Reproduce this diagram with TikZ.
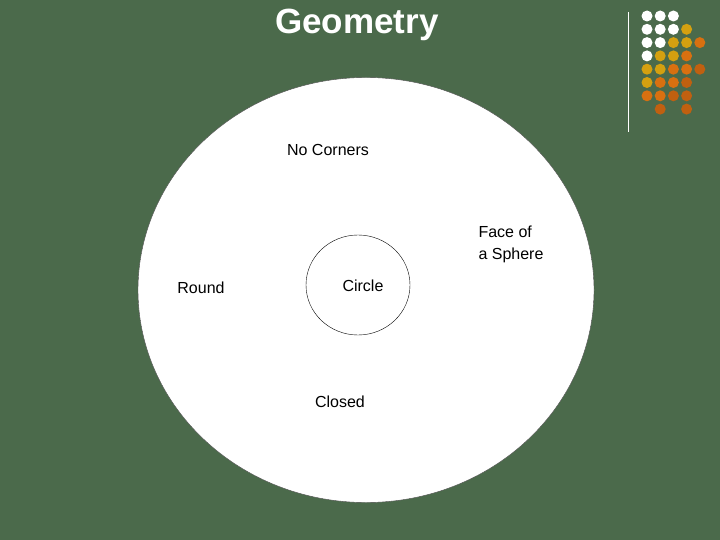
\documentclass[tikz,border=0pt]{standalone}
\usepackage{fontspec}
\usetikzlibrary{shapes.geometric}
\setmainfont{Liberation Sans}
\begin{document}
\begin{tikzpicture}[x=1pt,y=-1pt,
  lbl/.style={font=\fontsize{16}{22}\selectfont,align=left},
  dot/.style={circle,inner sep=0pt,minimum size=11pt}]
\definecolor{bg}{HTML}{4B6A4B}
\definecolor{dW}{HTML}{FFFFFF}
\definecolor{dY}{HTML}{D4A010}
\definecolor{dO}{HTML}{D87010}
\definecolor{dD}{HTML}{C06010}
\fill[bg] (0,0) rectangle (720,540);
\useasboundingbox (0,0) rectangle (720,540);
\node[text=white,font=\bfseries\fontsize{35}{40}\selectfont] (title) at (357,25) {Geometry};
\draw[white,line width=1pt] (628,12) -- (628,132);
\foreach \r/\lst in {0/{W,W,W},1/{W,W,W,Y},2/{W,W,Y,Y,O},3/{W,Y,Y,O},4/{Y,Y,O,O,D},5/{Y,O,O,D},6/{O,O,D,D},7/{N,D,N,D}}{
  \foreach \c [count=\i from 0] in \lst {
    \if N\c\else
      \node[dot,fill=d\c] at (647+\i*13.2,16+\r*13.3) {};
    \fi
  }
}
\node[draw=black!70,fill=white,ellipse,minimum width=456pt,minimum height=425pt,inner sep=0pt] (big) at (366,290) {};
\node[draw=black,ellipse,minimum width=104pt,minimum height=100pt,inner sep=0pt] (small) at (358,285) {};
\node[lbl] (nc) at (328,150) {No Corners};
\node[lbl] (fs) at (511,244) {Face of\\a Sphere};
\node[lbl] (rd) at (201,288) {Round};
\node[lbl] (ci) at (363,286) {Circle};
\node[lbl] (cl) at (340,402) {Closed};
\end{tikzpicture}
\end{document}
